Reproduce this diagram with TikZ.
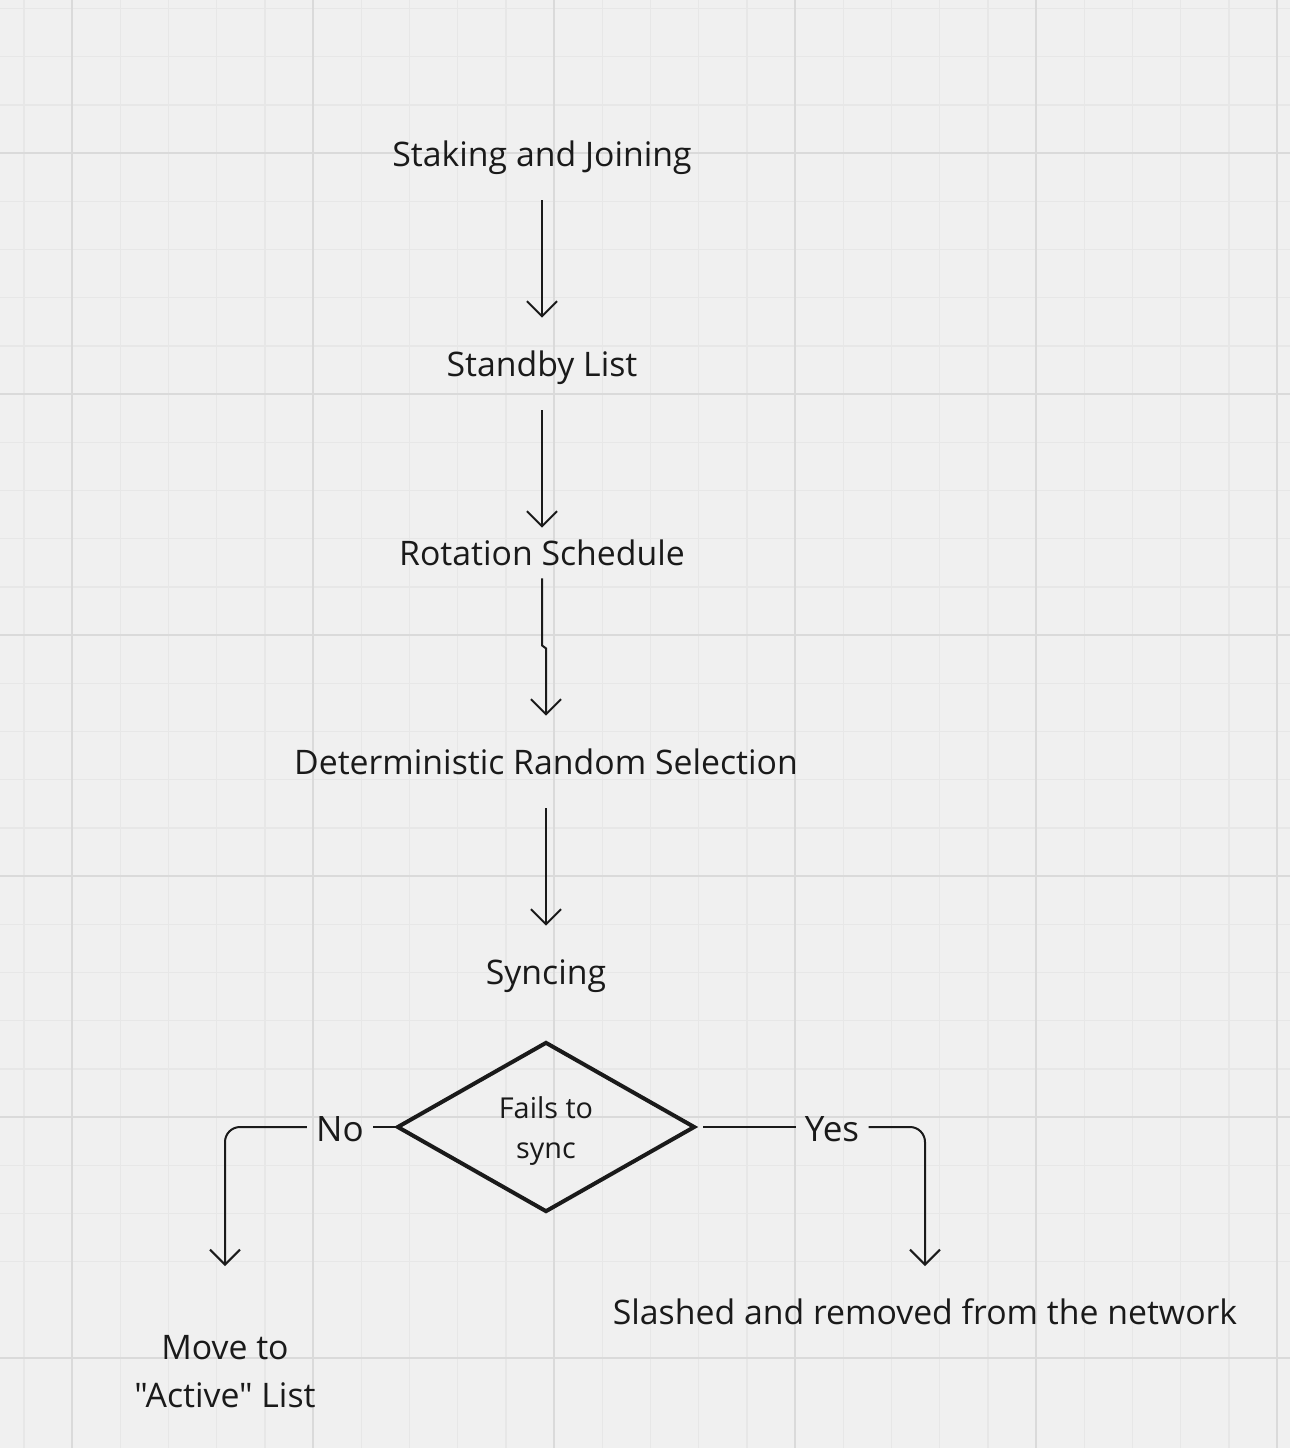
\documentclass[tikz,border=0pt]{standalone}
\usepackage{fontspec}
\setmainfont{Open Sans}[Ligatures=TeXOff]
\usetikzlibrary{arrows.meta,shapes.geometric}
\definecolor{bgc}{HTML}{F0F0F0}
\definecolor{minorc}{HTML}{E7E7E7}
\definecolor{majorc}{HTML}{DADADA}
\definecolor{ink}{HTML}{1A1A1A}
\tikzset{
  stage/.style={text=ink, font=\fontsize{16.9}{24}\selectfont, inner sep=0pt, minimum height=46pt, align=center, text depth=0pt},
  arr/.style={draw=ink, line width=1pt, -{Straight Barb[length=7.5pt,width=15pt,line width=1pt]}},
  plain/.style={draw=ink, line width=1pt},
  lbl/.style={text=ink, font=\fontsize{17.5}{24}\selectfont, inner sep=4.5pt},
  decision/.style={diamond, draw=ink, line width=2pt, minimum width=149pt, minimum height=85pt, inner sep=0pt},
  dectext/.style={text=ink, align=center, inner sep=0pt, font=\fontsize{14.4}{20}\selectfont},
  minorline/.style={draw=minorc, line width=0.7pt},
  majorline/.style={draw=majorc, line width=1pt}
}
\begin{document}
\begin{tikzpicture}[x=0.5pt,y=-0.5pt]
\fill[bgc] (0,0) rectangle (1290,1448);
\useasboundingbox (0,0) rectangle (1290,1448);
\foreach \i in {0,...,26} {
  \draw[minorline] ({23.8+48.2*\i},0) -- ({23.8+48.2*\i},1448);
  \draw[minorline] (0,{8.4+48.2*\i}) -- (1290,{8.4+48.2*\i});
}
\foreach \i in {0,...,5} {
  \draw[majorline] ({72+241*\i},0) -- ({72+241*\i},1448);
  \draw[majorline] (0,{153+241*\i}) -- (1290,{153+241*\i});
}
\node[stage] (stake) at (542,154) {Staking and Joining};
\node[stage] (standby) at (542,364) {Standby List};
\node[stage, minimum height=25pt] (rot) at (542,553) {Rotation Schedule};
\node[stage] (drs) at (546,762) {Deterministic Random Selection};
\node[stage] (sync) at (546,972) {Syncing};
\node[decision] (dec) at (546,1127) {};
\node[dectext] (dectxt) at (546,1131) {Fails to\\sync};
\node[lbl] (no) at (340,1129) {No};
\node[lbl] (yes) at (832,1129) {Yes};
\node[stage] (move) at (225,1371) {Move to\\"Active" List};
\node[stage] (slash) at (925,1312) {Slashed and removed from the network};
\coordinate (tipL) at (225,1266);
\coordinate (tipR) at (925,1266);

\draw[arr] (stake.south) -- (standby.north);
\draw[arr] (standby.south) -- (rot.north);
\draw[arr] (rot.south) -- ++(0,67) -- ++(4,3) -- (drs.north);
\draw[arr] (drs.south) -- (sync.north);
\draw[plain] (dec.west) -- (no.east |- dec.west);
\draw[arr, rounded corners=7.5pt] (no.west |- dec.west) -| (tipL);
\draw[plain] ([xshift=3pt]dec.east) -- (yes.west |- dec.east);
\draw[arr, rounded corners=7.5pt] (yes.east |- dec.east) -| (tipR);
\end{tikzpicture}
\end{document}
